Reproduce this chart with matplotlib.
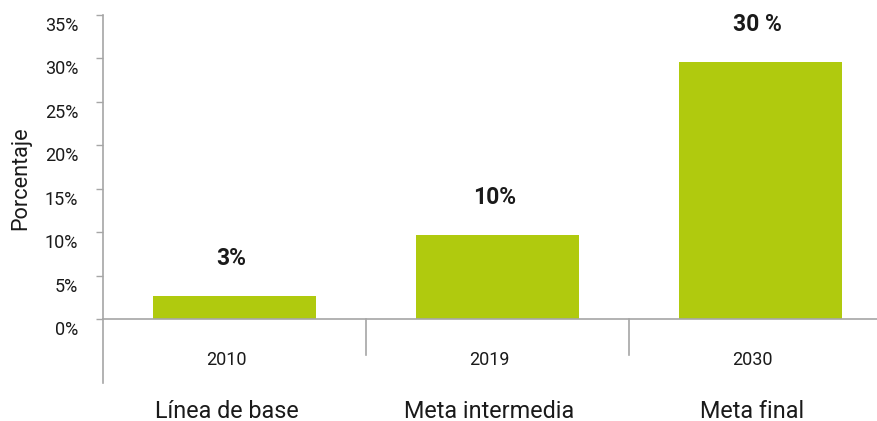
import matplotlib
matplotlib.use("Agg")
import matplotlib.pyplot as plt
import matplotlib.transforms as mtransforms

plt.rcParams['font.family'] = ['Roboto', 'DejaVu Sans']

categories = ["Línea de base", "Meta intermedia", "Meta final"]
years = ["2010", "2019", "2030"]
values = [2.7, 9.7, 29.6]
value_labels = ["3%", "10%", "30 %"]
yticks = [0, 5, 10, 15, 20, 25, 30, 35]
ytick_labels = [f"{t}%" for t in yticks]

W, H = 877, 421
fig = plt.figure(figsize=(W / 100, H / 100), dpi=100)
left_px, right_px = 103, 877
bottom_px, top_px = 319, 15
ax = fig.add_axes([left_px / W, (H - bottom_px) / H,
                   (right_px - left_px) / W, (bottom_px - top_px) / H])

bar_color = "#b0ca0e"
axis_color = "#a6a6a6"
text_color = "#1a1a1a"

x = list(range(len(categories)))
cat_px = 263.0
ax.bar(x, values, width=0.62, color=bar_color, zorder=2)
ax.set_ylim(0, 35)
ax.set_xlim(-0.5, -0.5 + (right_px - left_px) / cat_px)

ax.set_yticks(yticks)
ax.set_yticklabels(ytick_labels)
ax.set_xticks([])
ax.tick_params(axis='y', length=5, width=1, color=axis_color, pad=13,
               labelsize=13, labelcolor=text_color)
shift = mtransforms.ScaledTranslation(0, -9 / 100, fig.dpi_scale_trans)
for lbl in ax.get_yticklabels():
    lbl.set_transform(lbl.get_transform() + shift)

for s in ['top', 'right']:
    ax.spines[s].set_visible(False)
for s in ['left', 'bottom']:
    ax.spines[s].set_color(axis_color)
    ax.spines[s].set_linewidth(1.2)

axh = bottom_px - top_px
# extend y-axis line below zero
ax.plot([0, 0], [0, -(383 - bottom_px) / axh], transform=ax.transAxes,
        color=axis_color, lw=1.2, clip_on=False)
# category dividers
blend = mtransforms.blended_transform_factory(ax.transData, ax.transAxes)
for i in range(len(categories) - 1):
    ax.plot([i + 0.5, i + 0.5], [0, -(355 - bottom_px) / axh], transform=blend,
            color=axis_color, lw=1.2, clip_on=False)

left_shift = mtransforms.ScaledTranslation(-8 / 100, 0, fig.dpi_scale_trans)
for i, (yr, cat) in enumerate(zip(years, categories)):
    ax.text(i, -(360 - bottom_px) / axh, yr, transform=blend + left_shift,
            ha='center', va='center', fontsize=13, color=text_color)
    ax.text(i, -(411 - bottom_px) / axh, cat, transform=blend + left_shift,
            ha='center', va='center', fontsize=16.8, color=text_color)

for i, (v, lab) in enumerate(zip(values, value_labels)):
    ax.annotate(lab, (i, v), xytext=(-2, 26.6), textcoords='offset points',
                ha='center', va='center', fontsize=16.5, fontweight='bold',
                color=text_color)

fig.text(21 / W, (H - 178) / H, "Porcentaje", rotation=90, ha='center',
         va='center', fontsize=15.6, color=text_color)

fig.savefig("out.png", dpi=100)
